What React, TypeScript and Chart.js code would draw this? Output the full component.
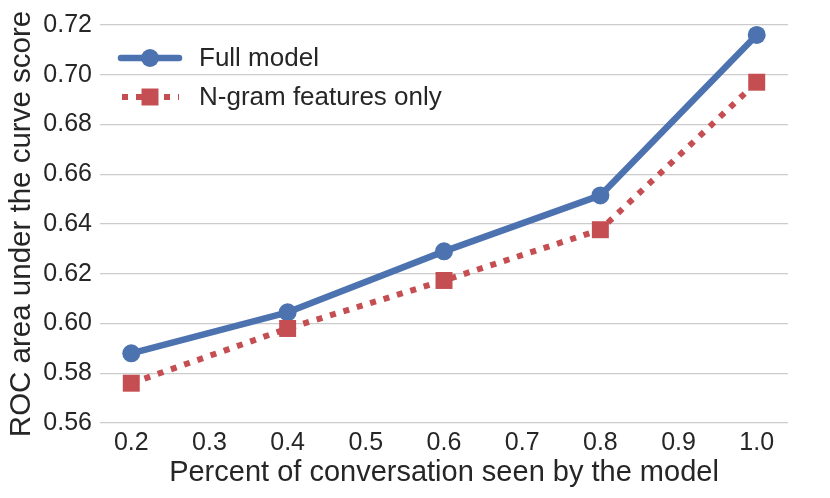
import React, { useEffect, useRef } from "react";
import { Chart, registerables } from "chart.js";

Chart.register(...registerables);

const xValues = [0.2, 0.4, 0.6, 0.8, 1.0];
const fullModel = [0.588, 0.6045, 0.629, 0.6515, 0.716];
const ngramOnly = [0.576, 0.598, 0.6173, 0.6377, 0.697];
const seriesLabels = ["Full model", "N-gram features only"];
const xTicks = [0.2, 0.3, 0.4, 0.5, 0.6, 0.7, 0.8, 0.9, 1.0];
const yTicks = [0.56, 0.58, 0.6, 0.62, 0.64, 0.66, 0.68, 0.7, 0.72];
const xAxisTitle = "Percent of conversation seen by the model";
const yAxisTitle = "ROC area under the curve score";

const FONT = '"Liberation Sans", Arial, Helvetica, sans-serif';
const TEXT = "#262626";
const BLUE = "#4c72b0";
const RED = "#c44e52";

const legendPlugin = {
  id: "mplLegend",
  afterDatasetsDraw(chart: any) {
    const ctx = chart.ctx as CanvasRenderingContext2D;
    const area = chart.chartArea;
    const datasets = chart.data.datasets as any[];
    datasets.forEach((ds, i) => {
      const y = area.top + 33 + i * 39;
      const x0 = area.left + 21;
      const x1 = area.left + 79;
      const xm = (x0 + x1) / 2;
      ctx.save();
      ctx.strokeStyle = ds.borderColor;
      ctx.lineWidth = ds.borderWidth;
      ctx.lineCap = ds.borderDash && ds.borderDash.length ? "butt" : "round";
      ctx.setLineDash(ds.borderDash || []);
      ctx.lineDashOffset = 0;
      ctx.beginPath();
      ctx.moveTo(x0 + (ds.borderDash ? 1 : 0), y);
      ctx.lineTo(x1, y);
      ctx.stroke();
      ctx.setLineDash([]);
      ctx.fillStyle = ds.pointBackgroundColor;
      if (ds.pointStyle === "rect") {
        const s = ds.pointRadius * Math.SQRT1_2;
        ctx.fillRect(xm - s, y - s, 2 * s, 2 * s);
      } else {
        ctx.beginPath();
        ctx.arc(xm, y, ds.pointRadius, 0, Math.PI * 2);
        ctx.fill();
      }
      ctx.fillStyle = TEXT;
      ctx.font = `26px ${FONT}`;
      ctx.textBaseline = "middle";
      ctx.textAlign = "left";
      ctx.fillText(ds.label, area.left + 99, y + 1);
      ctx.restore();
    });
  },
};

export default function App() {
  const canvasRef = useRef<HTMLCanvasElement | null>(null);

  useEffect(() => {
    document.body.style.margin = "0";
    const canvas = canvasRef.current;
    if (!canvas) return;
    const chart = new Chart(canvas, {
      type: "line",
      data: {
        datasets: [
          {
            label: seriesLabels[0],
            data: xValues.map((x, i) => ({ x, y: fullModel[i] })),
            borderColor: BLUE,
            backgroundColor: BLUE,
            pointBackgroundColor: BLUE,
            borderWidth: 6.5,
            borderCapStyle: "round",
            borderJoinStyle: "round",
            pointStyle: "circle",
            pointRadius: 9,
            pointBorderWidth: 0,
            pointHoverRadius: 9,
            tension: 0,
            clip: false as any,
            order: 2,
          },
          {
            label: seriesLabels[1],
            data: xValues.map((x, i) => ({ x, y: ngramOnly[i] })),
            borderColor: RED,
            backgroundColor: RED,
            pointBackgroundColor: RED,
            borderWidth: 6,
            borderDash: [6, 8],
            borderCapStyle: "butt",
            pointStyle: "rect",
            pointRadius: 12,
            pointBorderWidth: 0,
            pointHoverRadius: 12,
            tension: 0,
            clip: false as any,
            order: 1,
          },
        ],
      },
      options: {
        animation: false,
        responsive: false,
        devicePixelRatio: 1,
        layout: { padding: { top: 25, right: 42, left: 0, bottom: 0 } },
        plugins: {
          legend: { display: false },
          tooltip: { enabled: false },
        },
        scales: {
          x: {
            type: "linear",
            min: 0.16,
            max: 1.04,
            afterBuildTicks: (scale: any) => {
              scale.ticks = xTicks.map((v) => ({ value: v }));
            },
            afterFit: (scale: any) => {
              scale.height = 75;
            },
            grid: { display: false, drawTicks: false },
            border: { display: false },
            ticks: {
              padding: 5,
              color: TEXT,
              font: { family: FONT, size: 25 },
              callback: (v: any) => Number(v).toFixed(1),
              maxRotation: 0,
              autoSkip: false,
            },
            title: {
              display: true,
              text: xAxisTitle,
              color: TEXT,
              font: { family: FONT, size: 29 },
              padding: { top: 0, bottom: 8 },
            },
          },
          y: {
            type: "linear",
            min: 0.56,
            max: 0.72,
            afterBuildTicks: (scale: any) => {
              scale.ticks = yTicks.map((v) => ({ value: v }));
            },
            afterFit: (scale: any) => {
              scale.width = 100;
            },
            grid: { color: "#cccccc", lineWidth: 1.3, drawTicks: false },
            border: { display: false },
            ticks: {
              padding: 8,
              color: TEXT,
              font: { family: FONT, size: 25 },
              callback: (v: any) => Number(v).toFixed(2),
              autoSkip: false,
            },
            title: {
              display: true,
              text: yAxisTitle,
              color: TEXT,
              font: { family: FONT, size: 29.5 },
              padding: { top: 4, bottom: 4 },
            },
          },
        },
      },
      plugins: [legendPlugin],
    });
    return () => chart.destroy();
  }, []);

  return (
    <div style={{ width: 830, height: 498, position: "relative" }}>
      <canvas ref={canvasRef} width={830} height={498} style={{ display: "block" }} />
    </div>
  );
}
